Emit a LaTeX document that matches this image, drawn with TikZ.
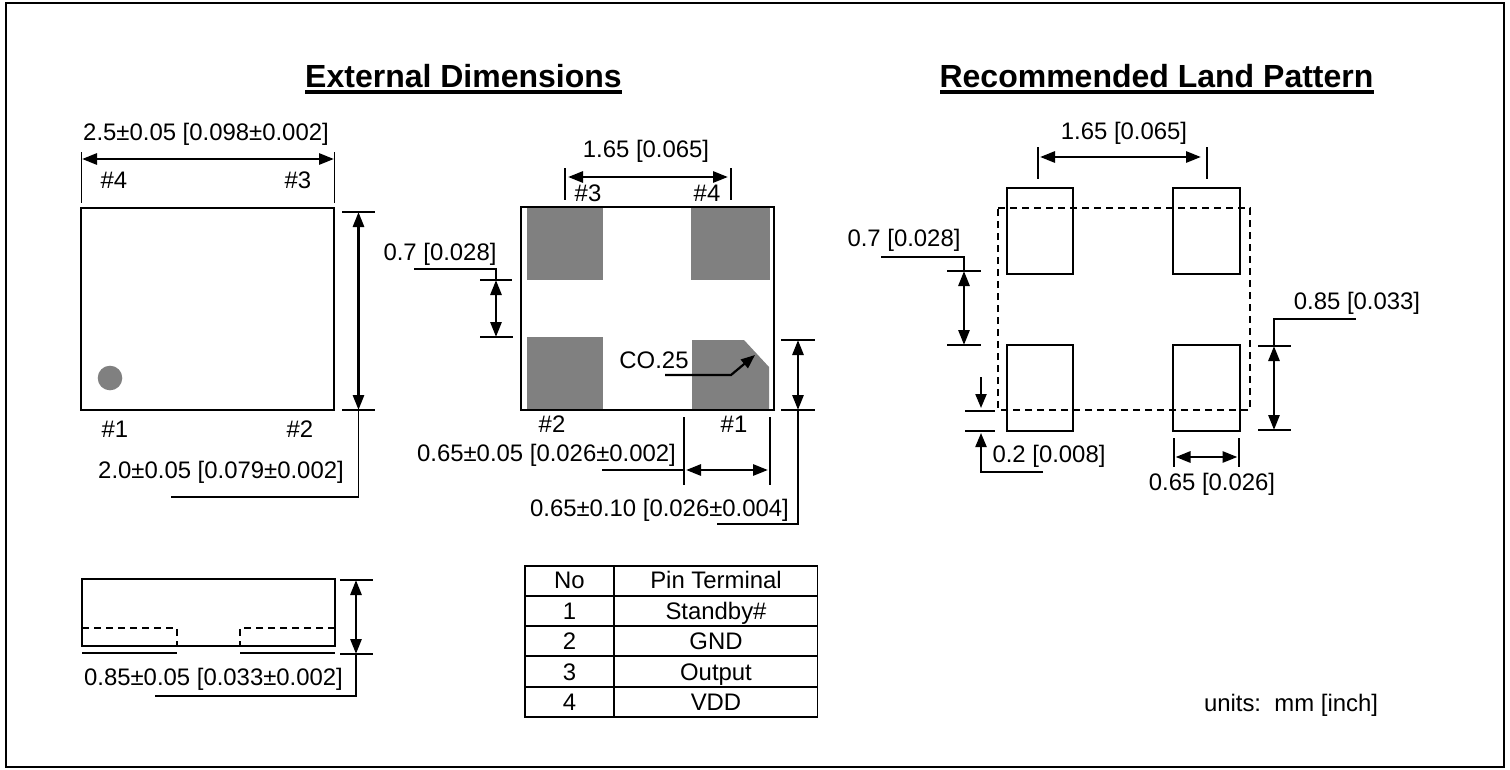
\documentclass[tikz,border=0pt]{standalone}
\usepackage{fontspec}
\setmainfont{Liberation Sans}
\usetikzlibrary{arrows.meta}
\definecolor{padgray}{RGB}{128,128,128}
\tikzset{
  x=1pt,y=-1pt,
  lbl/.style={inner sep=0pt,font=\fontsize{23.9}{26}\selectfont,text=black,text height=17pt,text depth=0pt},
  ttl/.style={inner sep=0pt,font=\fontsize{32}{34}\bfseries\selectfont,text height=23pt,text depth=0pt},
  rulebar/.style={draw=black,line width=4pt},
  outline/.style={draw=black,line width=2pt},
  ext/.style={draw=black,line width=1.8pt},
  dimline/.style={draw=black,line width=2.8pt,{Triangle[length=15pt,width=11pt]}-{Triangle[length=15pt,width=11pt]}},
  oneway/.style={draw=black,line width=2.2pt,-{Triangle[length=14pt,width=11pt]}},
  hidden/.style={draw=black,line width=1.8pt,dash pattern=on 7pt off 5pt},
}
\begin{document}
\begin{tikzpicture}
\useasboundingbox (0,0) rectangle (1510,769);
\draw[line width=2.5pt] (6,3) rectangle (1504,767);
% titles
\node[ttl] (t1) at (463.5,75.5) {External Dimensions};
\node[ttl] (t2) at (1156.5,75.5) {Recommended Land Pattern};
\draw[rulebar] (305,92) -- (622,92);
\draw[rulebar] (940,92) -- (1374,92);
% top view
\draw[outline] (81,208) rectangle (334,410);
\fill[padgray] (110,378) circle (12.3);
\draw[ext] (81.5,152) -- (81.5,203);
\draw[ext] (334.5,152) -- (334.5,203);
\draw[dimline] (82,159) -- (334,159);
\node[lbl] (a1) at (206,132) {2.5±0.05 [0.098±0.002]};
\node[lbl] (p4a) at (114,180) {\#4};
\node[lbl] (p3a) at (298,180) {\#3};
\node[lbl] (p1a) at (115,429) {\#1};
\node[lbl] (p2a) at (300,429) {\#2};
\draw[ext] (342,212) -- (375,212);
\draw[ext] (342,410) -- (375,410);
\draw[dimline] (358.5,212) -- (358.5,410);
\draw[ext] (358.5,410) -- (358.5,497) -- (171,497);
\node[lbl] (a2) at (221,470) {2.0±0.05 [0.079±0.002]};
% side view
\draw[outline] (82,579) rectangle (335,646);
\draw[hidden] (82,628) -- (177,628) -- (177,646);
\draw[hidden] (335,628) -- (240,628) -- (240,646);
\draw[ext] (82,653) -- (177,653);
\draw[ext] (240,653) -- (335,653);
\draw[ext] (340,580) -- (373,580);
\draw[ext] (340,654) -- (373,654);
\draw[dimline] (356,580) -- (356,654);
\draw[ext] (356,654) -- (356,696) -- (155,696);
\node[lbl] (a3) at (213.5,677) {0.85±0.05 [0.033±0.002]};
% bottom view
\fill[padgray] (527,208) rectangle (603,280);
\fill[padgray] (691,208) rectangle (770,280);
\fill[padgray] (527,337) rectangle (603,409);
\fill[padgray] (692,340) -- (744,340) -- (769,367) -- (769,409) -- (692,409) -- cycle;
\draw[outline] (521,207) rectangle (774,410);
\draw[ext] (565,168) -- (565,200);
\draw[ext] (731,168) -- (731,200);
\draw[dimline] (568,177) -- (728,177);
\node[lbl] (b1) at (646,149) {1.65 [0.065]};
\node[lbl] (p3b) at (588,193) {\#3};
\node[lbl] (p4b) at (707,193) {\#4};
\node[lbl] (p2b) at (552,424) {\#2};
\node[lbl] (p1b) at (734,424) {\#1};
\draw[ext] (480,280) -- (512,280);
\draw[ext] (480,337) -- (513,337);
\draw[dimline] (496,280) -- (496,337);
\draw[ext] (414,269) -- (496,269) -- (496,280);
\node[lbl] (b2) at (440,252) {0.7 [0.028]};
\draw[ext] (781,340) -- (815,340);
\draw[ext] (781,410) -- (815,410);
\draw[dimline] (798,340) -- (798,410);
\draw[ext] (798,410) -- (798,524) -- (717,524);
\node[lbl] (b3) at (659.5,508) {0.65±0.10 [0.026±0.004]};
\draw[ext] (684,417) -- (684,485);
\draw[ext] (770,417) -- (770,485);
\draw[dimline] (686,470) -- (768,470);
\draw[ext] (602,470) -- (684,470);
\node[lbl] (b4) at (546.5,453) {0.65±0.05 [0.026±0.002]};
\node[lbl] (b5) at (654,360) {CO.25};
\draw[oneway] (665,375) -- (731,375) -- (755,355);
% table
\draw[ext] (525,566) rectangle (817.5,717);
\draw[ext] (614,566) -- (614,717);
\foreach \yy in {596,626,656,687}{\draw[ext] (525,\yy) -- (817.5,\yy);}
\node[lbl] (h1) at (569.5,580) {No};
\node[lbl] (h2) at (716,580) {Pin Terminal};
\node[lbl] (c11) at (569.5,611) {1};
\node[lbl] (c12) at (716,611) {Standby\#};
\node[lbl] (c21) at (569.5,641) {2};
\node[lbl] (c22) at (716,641) {GND};
\node[lbl] (c31) at (569.5,672) {3};
\node[lbl] (c32) at (716,672) {Output};
\node[lbl] (c41) at (569.5,702) {4};
\node[lbl] (c42) at (716,702) {VDD};
% land pattern
\draw[outline] (1007,188) rectangle (1072.5,274);
\draw[outline] (1173,188) rectangle (1239.5,274);
\draw[outline] (1007,345) rectangle (1072.5,431);
\draw[outline] (1173,345) rectangle (1239.5,431);
\draw[hidden] (998,208) -- (1250,208) -- (1250,410) -- (998,410) -- cycle;
\draw[ext] (1038,147) -- (1038,179);
\draw[ext] (1207,147) -- (1207,179);
\draw[dimline] (1040,157) -- (1201,157);
\node[lbl] (c1) at (1124,131) {1.65 [0.065]};
\draw[ext] (881,257) -- (964,257) -- (964,271);
\draw[ext] (947,271) -- (981,271);
\draw[ext] (947,345) -- (981,345);
\draw[dimline] (964,271) -- (964,345);
\node[lbl] (c2) at (904,238) {0.7 [0.028]};
\draw[ext] (1356,319) -- (1274,319) -- (1274,346);
\draw[ext] (1258,346) -- (1291,346);
\draw[ext] (1258,430) -- (1291,430);
\draw[dimline] (1274,346) -- (1274,430);
\node[lbl] (c3) at (1357,301) {0.85 [0.033]};
\draw[ext] (965,411) -- (995,411);
\draw[ext] (965,431) -- (995,431);
\draw[oneway] (981,377) -- (981,408);
\draw[oneway] (1043,472) -- (981,472) -- (981,433);
\node[lbl] (c4) at (1049,454) {0.2 [0.008]};
\draw[ext] (1174,438) -- (1174,467);
\draw[ext] (1239,438) -- (1239,467);
\draw[dimline] (1175.5,457) -- (1237.5,457);
\node[lbl] (c5) at (1212,482) {0.65 [0.026]};
\node[lbl] (u) at (1291,703) {units:\ \ mm [inch]};
\end{tikzpicture}
\end{document}
